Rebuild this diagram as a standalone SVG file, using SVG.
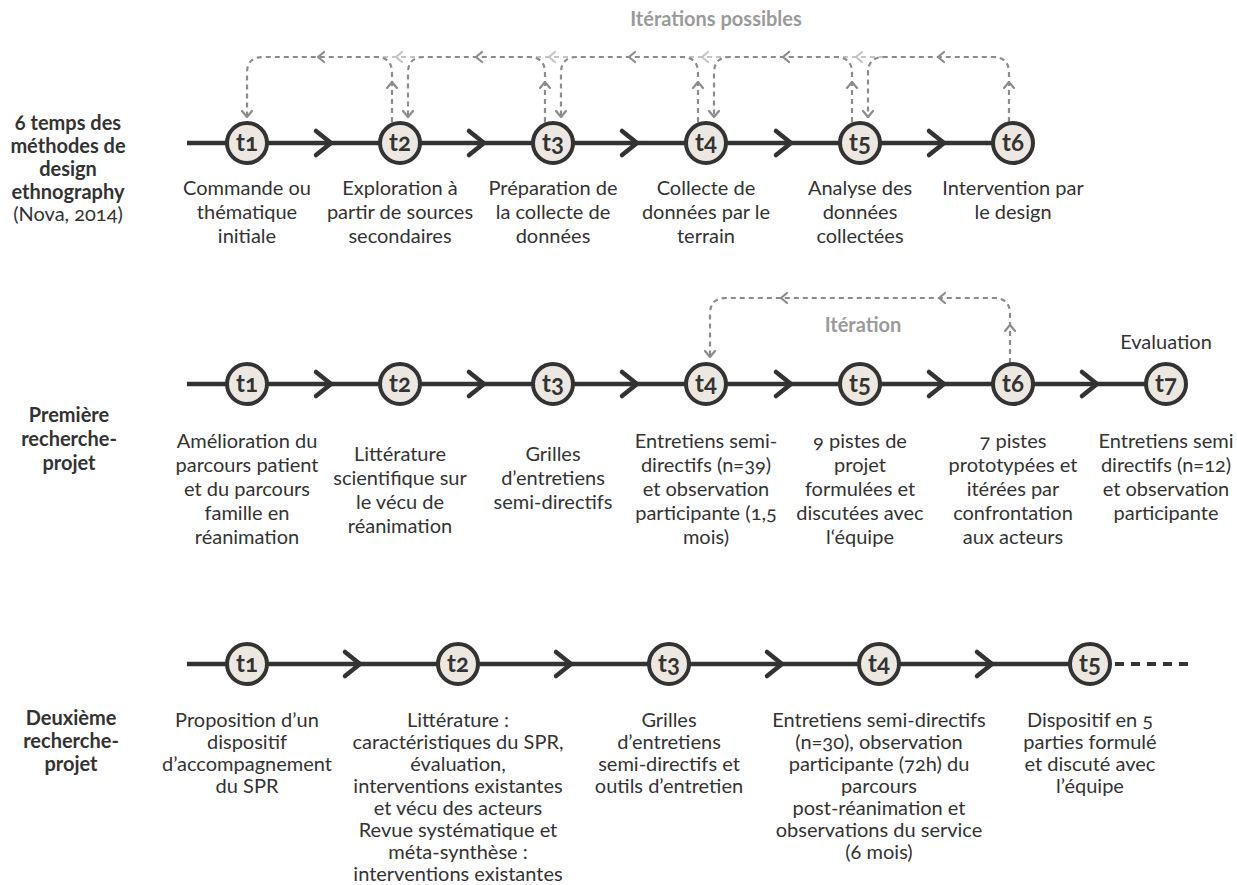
<svg xmlns="http://www.w3.org/2000/svg" width="1237" height="885" viewBox="0 0 1237 885">
<style>
text{font-family:Lato,"Noto Sans","Liberation Sans",sans-serif;fill:#333;text-anchor:middle;font-variant-numeric:oldstyle-nums}
.d{font-size:20px}
.b{font-size:20px;font-weight:bold}
.it{font-size:20px;font-weight:bold;fill:#9a9a9a}
.n{font-size:24px;font-weight:bold;fill:#333}
.main{fill:none;stroke:#333;stroke-width:4.5}
.chev{fill:none;stroke:#333;stroke-width:4.5;stroke-linecap:round;stroke-linejoin:miter}
.dot{fill:none;stroke:#333;stroke-width:4;stroke-dasharray:9 7}
.dg{fill:none;stroke:#8c8c8c;stroke-width:2.2;stroke-dasharray:5 4}
.dl{fill:none;stroke:#c4c4c4;stroke-width:2.2;stroke-dasharray:5 4}
.ag{fill:none;stroke:#8c8c8c;stroke-width:2.2;stroke-linecap:round;stroke-linejoin:round}
.al{fill:none;stroke:#c4c4c4;stroke-width:2.2;stroke-linecap:round;stroke-linejoin:round}
circle{fill:#ece8e1;stroke:#333;stroke-width:4}
</style>

<g id="connectors">
  <path class="main" d="M187,143H1013"/>
  <path class="main" d="M187,384H1166"/>
  <path class="main" d="M187,664H1090"/>
  <path class="dot" d="M1115,664H1190"/>
  <path class="chev" d="M316,131L331,143L316,155"/>
  <path class="chev" d="M469,131L484,143L469,155"/>
  <path class="chev" d="M622,131L637,143L622,155"/>
  <path class="chev" d="M776,131L791,143L776,155"/>
  <path class="chev" d="M929,131L944,143L929,155"/>
  <path class="chev" d="M316,372L331,384L316,396"/>
  <path class="chev" d="M469,372L484,384L469,396"/>
  <path class="chev" d="M622,372L637,384L622,396"/>
  <path class="chev" d="M776,372L791,384L776,396"/>
  <path class="chev" d="M929,372L944,384L929,396"/>
  <path class="chev" d="M1082,372L1097,384L1082,396"/>
  <path class="chev" d="M345,652L360,664L345,676"/>
  <path class="chev" d="M556,652L571,664L556,676"/>
  <path class="chev" d="M767,652L782,664L767,676"/>
  <path class="chev" d="M977,652L992,664L977,676"/>

  <path class="dl" d="M424,57H376"/>
  <path class="al" d="M402,52L396,57L402,62"/>
  <path class="dl" d="M577,57H529"/>
  <path class="al" d="M555,52L549,57L555,62"/>
  <path class="dl" d="M730,57H682"/>
  <path class="al" d="M708,52L702,57L708,62"/>
  <path class="dl" d="M884,57H836"/>
  <path class="al" d="M862,52L856,57L862,62"/>
  <path class="dg" d="M392,122V73Q392,57 376,57H263Q247,57 247,73V118"/>
  <path class="ag" d="M387,88L392,82L397,88"/>
  <path class="ag" d="M242,111L247,117L252,111"/>
  <path class="ag" d="M324,52L318,57L324,62"/>
  <path class="dg" d="M545,122V73Q545,57 529,57H424Q408,57 408,73V118"/>
  <path class="ag" d="M540,88L545,82L550,88"/>
  <path class="ag" d="M403,111L408,117L413,111"/>
  <path class="ag" d="M482,52L476,57L482,62"/>
  <path class="dg" d="M698,122V73Q698,57 682,57H577Q561,57 561,73V118"/>
  <path class="ag" d="M693,88L698,82L703,88"/>
  <path class="ag" d="M556,111L561,117L566,111"/>
  <path class="ag" d="M635,52L629,57L635,62"/>
  <path class="dg" d="M852,122V73Q852,57 836,57H730Q714,57 714,73V118"/>
  <path class="ag" d="M847,88L852,82L857,88"/>
  <path class="ag" d="M709,111L714,117L719,111"/>
  <path class="ag" d="M789,52L783,57L789,62"/>
  <path class="dg" d="M1009,122V73Q1009,57 993,57H884Q868,57 868,73V118"/>
  <path class="ag" d="M1004,88L1009,82L1014,88"/>
  <path class="ag" d="M863,111L868,117L873,111"/>
  <path class="ag" d="M944,52L938,57L944,62"/>

  <path class="dg" d="M1010,363V314Q1010,298 994,298H726Q710,298 710,314V358"/>
  <path class="ag" d="M1005,331L1010,325L1015,331"/>
  <path class="ag" d="M705,351L710,357L715,351"/>
  <path class="ag" d="M787,293L781,298L787,303"/>
  <path class="ag" d="M945,293L939,298L945,303"/>
</g>

<g id="labels-left">
  <text class="b" x="68" y="130">6 temps des</text>
  <text class="b" x="68" y="153">méthodes de</text>
  <text class="b" x="68" y="176">design</text>
  <text class="b" x="68" y="199">ethnography</text>
  <text class="d" x="68" y="221">(Nova, 2014)</text>
  <text class="b" x="69" y="422">Première</text>
  <text class="b" x="69" y="446">recherche-</text>
  <text class="b" x="69" y="470">projet</text>
  <text class="b" x="71" y="725">Deuxième</text>
  <text class="b" x="71" y="748">recherche-</text>
  <text class="b" x="71" y="771">projet</text>
</g>

<g id="iteration-labels">
  <text class="it" x="716" y="26">Itérations possibles</text>
  <text class="it" x="863" y="332">Itération</text>
  <text class="d" x="1166" y="349">Evaluation</text>
</g>

<g id="r1-t1"><circle cx="247" cy="143" r="20"/><text class="n" x="247" y="151">t1</text>
  <text class="d" x="247" y="195">Commande ou</text><text class="d" x="247" y="219">thématique</text><text class="d" x="247" y="243">initiale</text></g>
<g id="r1-t2"><circle cx="400" cy="143" r="20"/><text class="n" x="400" y="151">t2</text>
  <text class="d" x="400" y="195">Exploration à</text><text class="d" x="400" y="219">partir de sources</text><text class="d" x="400" y="243">secondaires</text></g>
<g id="r1-t3"><circle cx="553" cy="143" r="20"/><text class="n" x="553" y="151">t3</text>
  <text class="d" x="553" y="195">Préparation de</text><text class="d" x="553" y="219">la collecte de</text><text class="d" x="553" y="243">données</text></g>
<g id="r1-t4"><circle cx="706" cy="143" r="20"/><text class="n" x="706" y="151">t4</text>
  <text class="d" x="706" y="195">Collecte de</text><text class="d" x="706" y="219">données par le</text><text class="d" x="706" y="243">terrain</text></g>
<g id="r1-t5"><circle cx="860" cy="143" r="20"/><text class="n" x="860" y="151">t5</text>
  <text class="d" x="860" y="195">Analyse des</text><text class="d" x="860" y="219">données</text><text class="d" x="860" y="243">collectées</text></g>
<g id="r1-t6"><circle cx="1013" cy="143" r="20"/><text class="n" x="1013" y="151">t6</text>
  <text class="d" x="1013" y="195">Intervention par</text><text class="d" x="1013" y="219">le design</text></g>

<g id="r2-t1"><circle cx="247" cy="384" r="20"/><text class="n" x="247" y="392">t1</text>
  <text class="d" x="247" y="448">Amélioration du</text><text class="d" x="247" y="472">parcours patient</text><text class="d" x="247" y="496">et du parcours</text><text class="d" x="247" y="520">famille en</text><text class="d" x="247" y="544">réanimation</text></g>
<g id="r2-t2"><circle cx="400" cy="384" r="20"/><text class="n" x="400" y="392">t2</text>
  <text class="d" x="400" y="461">Littérature</text><text class="d" x="400" y="485">scientifique sur</text><text class="d" x="400" y="509">le vécu de</text><text class="d" x="400" y="533">réanimation</text></g>
<g id="r2-t3"><circle cx="553" cy="384" r="20"/><text class="n" x="553" y="392">t3</text>
  <text class="d" x="553" y="461">Grilles</text><text class="d" x="553" y="485">d’entretiens</text><text class="d" x="553" y="509">semi-directifs</text></g>
<g id="r2-t4"><circle cx="706" cy="384" r="20"/><text class="n" x="706" y="392">t4</text>
  <text class="d" x="706" y="448">Entretiens semi-</text><text class="d" x="706" y="472">directifs (n=39)</text><text class="d" x="706" y="496">et observation</text><text class="d" x="706" y="520">participante (1,5</text><text class="d" x="706" y="544">mois)</text></g>
<g id="r2-t5"><circle cx="860" cy="384" r="20"/><text class="n" x="860" y="392">t5</text>
  <text class="d" x="860" y="448">9 pistes de</text><text class="d" x="860" y="472">projet</text><text class="d" x="860" y="496">formulées et</text><text class="d" x="860" y="520">discutées avec</text><text class="d" x="860" y="544">l‘équipe</text></g>
<g id="r2-t6"><circle cx="1013" cy="384" r="20"/><text class="n" x="1013" y="392">t6</text>
  <text class="d" x="1013" y="448">7 pistes</text><text class="d" x="1013" y="472">prototypées et</text><text class="d" x="1013" y="496">itérées par</text><text class="d" x="1013" y="520">confrontation</text><text class="d" x="1013" y="544">aux acteurs</text></g>
<g id="r2-t7"><circle cx="1166" cy="384" r="20"/><text class="n" x="1166" y="392">t7</text>
  <text class="d" x="1166" y="448">Entretiens semi</text><text class="d" x="1166" y="472">directifs (n=12)</text><text class="d" x="1166" y="496">et observation</text><text class="d" x="1166" y="520">participante</text></g>

<g id="r3-t1"><circle cx="247" cy="664" r="20"/><text class="n" x="247" y="672">t1</text>
  <text class="d" x="247" y="727">Proposition d’un</text><text class="d" x="247" y="749">dispositif</text><text class="d" x="247" y="771">d’accompagnement</text><text class="d" x="247" y="793">du SPR</text></g>
<g id="r3-t2"><circle cx="458" cy="664" r="20"/><text class="n" x="458" y="672">t2</text>
  <text class="d" x="458" y="727">Littérature :</text><text class="d" x="458" y="749">caractéristiques du SPR,</text><text class="d" x="458" y="771">évaluation,</text><text class="d" x="458" y="793">interventions existantes</text><text class="d" x="458" y="815">et vécu des acteurs</text><text class="d" x="458" y="837">Revue systématique et</text><text class="d" x="458" y="859">méta-synthèse :</text><text class="d" x="458" y="881">interventions existantes</text></g>
<g id="r3-t3"><circle cx="669" cy="664" r="20"/><text class="n" x="669" y="672">t3</text>
  <text class="d" x="669" y="727">Grilles</text><text class="d" x="669" y="749">d’entretiens</text><text class="d" x="669" y="771">semi-directifs et</text><text class="d" x="669" y="793">outils d’entretien</text></g>
<g id="r3-t4"><circle cx="879" cy="664" r="20"/><text class="n" x="879" y="672">t4</text>
  <text class="d" x="879" y="727">Entretiens semi-directifs</text><text class="d" x="879" y="749">(n=30), observation</text><text class="d" x="879" y="771">participante (72h) du</text><text class="d" x="879" y="793">parcours</text><text class="d" x="879" y="815">post-réanimation et</text><text class="d" x="879" y="837">observations du service</text><text class="d" x="879" y="859">(6 mois)</text></g>
<g id="r3-t5"><circle cx="1090" cy="664" r="20"/><text class="n" x="1090" y="672">t5</text>
  <text class="d" x="1090" y="727">Dispositif en 5</text><text class="d" x="1090" y="749">parties formulé</text><text class="d" x="1090" y="771">et discuté avec</text><text class="d" x="1090" y="793">l’équipe</text></g>
</svg>
